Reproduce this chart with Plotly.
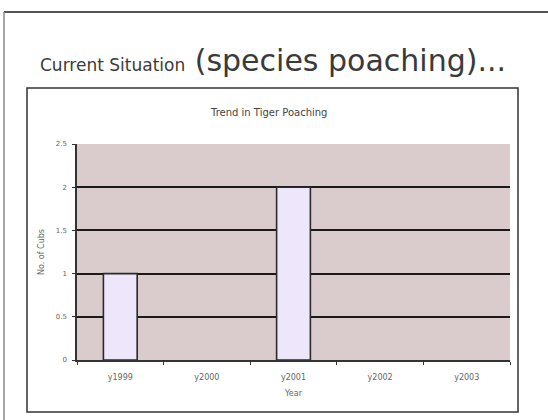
import plotly.graph_objects as go

years = ["y1999", "y2000", "y2001", "y2002", "y2003"]
cubs = [1, 0, 2, 0, 0]
y_ticks = [0, 0.5, 1, 1.5, 2, 2.5]
y_tick_labels = ["0", "0.5", "1", "1.5", "2", "2.5"]

W, H = 548, 420
L, R, T, B = 77, 510, 144, 360

def px(x):
    return (x - L) / (R - L)

def py(y):
    return (B - y) / (B - T)

fig = go.Figure()
fig.add_trace(go.Bar(
    x=years, y=cubs, width=0.39,
    marker=dict(color="#EEE6FA",
                line=dict(color="#2a2a2a", width=[1.6 if v else 0 for v in cubs])),
))

fig.update_layout(
    width=W, height=H,
    margin=dict(l=L, r=W - R, t=T, b=H - B),
    paper_bgcolor="white",
    plot_bgcolor="#DACCCC",
    showlegend=False,
    font=dict(family="DejaVu Sans, Verdana, sans-serif", color="#444"),
    xaxis=dict(
        type="category", tickson="boundaries", ticks="outside", ticklen=3,
        tickcolor="#333", showline=True, linecolor="#333", linewidth=1.5,
        showgrid=False, tickfont=dict(size=8, color="#666"),
        ticklabelstandoff=9,
        title=dict(text="Year", font=dict(size=8, color="#666"), standoff=9),
    ),
    yaxis=dict(
        range=[0, 2.5], tickvals=y_ticks, ticktext=y_tick_labels,
        ticks="outside", ticklen=3, tickcolor="#333",
        showline=True, linecolor="#333", linewidth=1.5,
        showgrid=True, gridcolor="#1a1a1a", gridwidth=2,
        zeroline=False, tickfont=dict(size=7, color="#666"),
        ticklabelstandoff=4,
        title=dict(text="No. of Cubs", font=dict(size=8, color="#666"), standoff=10),
        layer="below traces",
    ),
)

# outer slide frame
fig.add_shape(type="line", xref="paper", yref="paper",
              x0=px(4), x1=px(548), y0=py(12), y1=py(12),
              line=dict(color="#555", width=2))
fig.add_shape(type="line", xref="paper", yref="paper",
              x0=px(4), x1=px(4), y0=py(12), y1=py(422),
              line=dict(color="#888", width=1.5))
# chart box
fig.add_shape(type="rect", xref="paper", yref="paper",
              x0=px(27), x1=px(518), y0=py(88), y1=py(412),
              line=dict(color="#333", width=1.5), fillcolor="rgba(0,0,0,0)",
              layer="below")

fig.add_annotation(
    xref="paper", yref="paper", x=px(38), y=py(61), xanchor="left", yanchor="middle",
    text="<span style='font-size:17px'>Current Situation</span> (species poaching)...",
    showarrow=False, font=dict(size=30, color="#3a3a3a"),
)
fig.add_annotation(
    xref="paper", yref="paper", x=px(268), y=py(112), xanchor="center", yanchor="middle",
    text="Trend in Tiger Poaching", showarrow=False,
    font=dict(size=10, color="#444"),
)

fig.write_html("out.html", config={"displayModeBar": False},
               post_script="document.body.style.margin='0';")
